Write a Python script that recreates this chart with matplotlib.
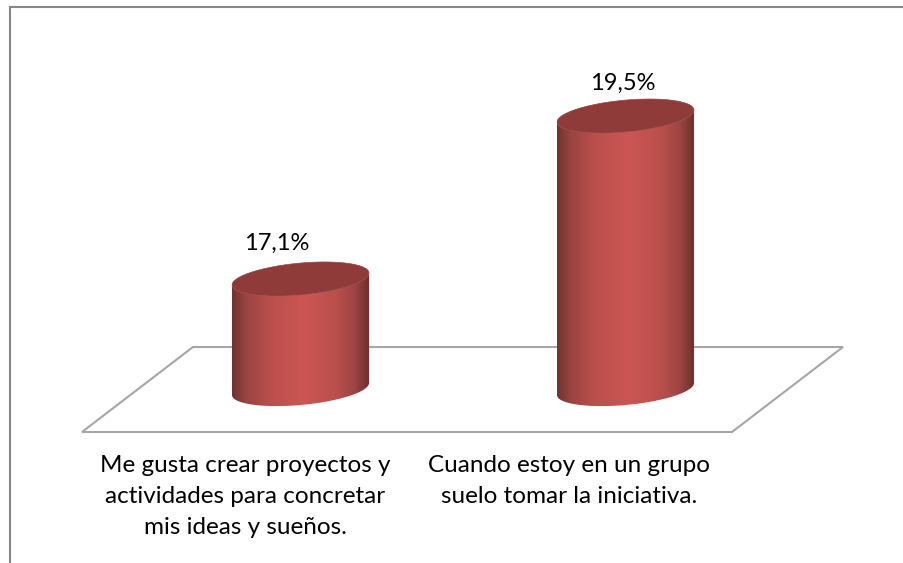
import numpy as np
import matplotlib.pyplot as plt
from matplotlib.colors import LinearSegmentedColormap
from matplotlib.patches import Polygon, PathPatch
from matplotlib.path import Path

categories = ["Me gusta crear proyectos y\nactividades para concretar\nmis ideas y sueños.",
              "Cuando estoy en un grupo\nsuelo tomar la iniciativa."]
values = [17.1, 19.5]
value_labels = ["17,1%", "19,5%"]

W, H = 904, 563
plt.rcParams['font.family'] = ['Lato', 'DejaVu Sans']

# Scales: category spacing and value axis as measured in pixels
x_px0, x_step = 300.5, 325.0
base_val, y_base_px, y_scale = 15.48, 389.0, 67.9

fig = plt.figure(figsize=(W / 100, H / 100), dpi=100)
ax = fig.add_axes([0, 0, 1, 1])
ax.set_xlim(-x_px0 / x_step, (W - x_px0) / x_step)
ax.set_ylim(base_val - (H - y_base_px) / y_scale, base_val + y_base_px / y_scale)
ax.axis("off")

# helper for things that are pure layout
px = lambda x, y: (x / W, 1 - y / H)

# frame, top and left only
ax.plot(*zip(px(10, H), px(10, 7), px(W, 7)), transform=ax.transAxes, color="#878787", lw=1.5, zorder=1,
        solid_joinstyle="miter")

# floor
floor = Polygon([px(82, 432), px(732, 432), px(843, 347), px(193, 347)], closed=True, fill=False,
                edgecolor="#a6a6a6", lw=1.5, transform=ax.transAxes, zorder=2)
ax.add_patch(floor)

body_cmap = LinearSegmentedColormap.from_list("body", [
    (0.0, "#703331"), (0.10, "#994441"), (0.28, "#bb4f4c"), (0.52, "#cc5653"),
    (0.75, "#bb504d"), (0.90, "#9c4543"), (1.0, "#6c302e")])
gradient = np.linspace(0, 1, 256).reshape(1, -1)

half_w = 68.5 / x_step
tilt = 6.0 / y_scale
half_h = 16.0 / y_scale
t = np.linspace(0, 2 * np.pi, 181)

# label offsets from the cylinder centre, they don't sit centred in the original
label_dx = [-24, -3]
label_dy = [36, 33]


def ellipse(cx, cy, tt):
    return cx + half_w * np.cos(tt), cy + tilt * np.cos(tt) + half_h * np.sin(tt)


for i, v in enumerate(values):
    # outline of the body: lower half of base ellipse then upper half of top ellipse
    tb = np.linspace(np.pi, 2 * np.pi, 90)
    tt = np.linspace(0, np.pi, 90)
    xb, yb = ellipse(i, base_val, tb)
    xt, yt = ellipse(i, v, tt)
    verts = np.column_stack([np.r_[xb, xt], np.r_[yb, yt]])
    clip = PathPatch(Path(np.vstack([verts, verts[0]]), closed=True), facecolor="none", edgecolor="none",
                     transform=ax.transData)
    ax.add_patch(clip)
    im = ax.imshow(gradient, extent=[i - half_w, i + half_w, base_val - 1, v + 1], cmap=body_cmap,
                   aspect="auto", zorder=3, interpolation="bilinear")
    im.set_clip_path(clip)
    xc, yc = ellipse(i, v, t)
    ax.fill(xc, yc, color="#8f3b39", zorder=4, lw=0)
    ax.plot(xc, yc, color="#a85a58", lw=0.4, zorder=4)
    ax.text(i + label_dx[i] / x_step, v + label_dy[i] / y_scale, value_labels[i], ha="center", va="center",
            fontsize=17, color="black", zorder=5)

ax.set_xlim(-x_px0 / x_step, (W - x_px0) / x_step)
ax.set_ylim(base_val - (H - y_base_px) / y_scale, base_val + y_base_px / y_scale)

ax.text(*px(245.5, 455), categories[0], transform=ax.transAxes, ha="center", va="top", fontsize=17.5, linespacing=1.6)
ax.text(*px(569, 455), categories[1], transform=ax.transAxes, ha="center", va="top", fontsize=17.5, linespacing=1.6)

fig.savefig("out.png", dpi=100)
